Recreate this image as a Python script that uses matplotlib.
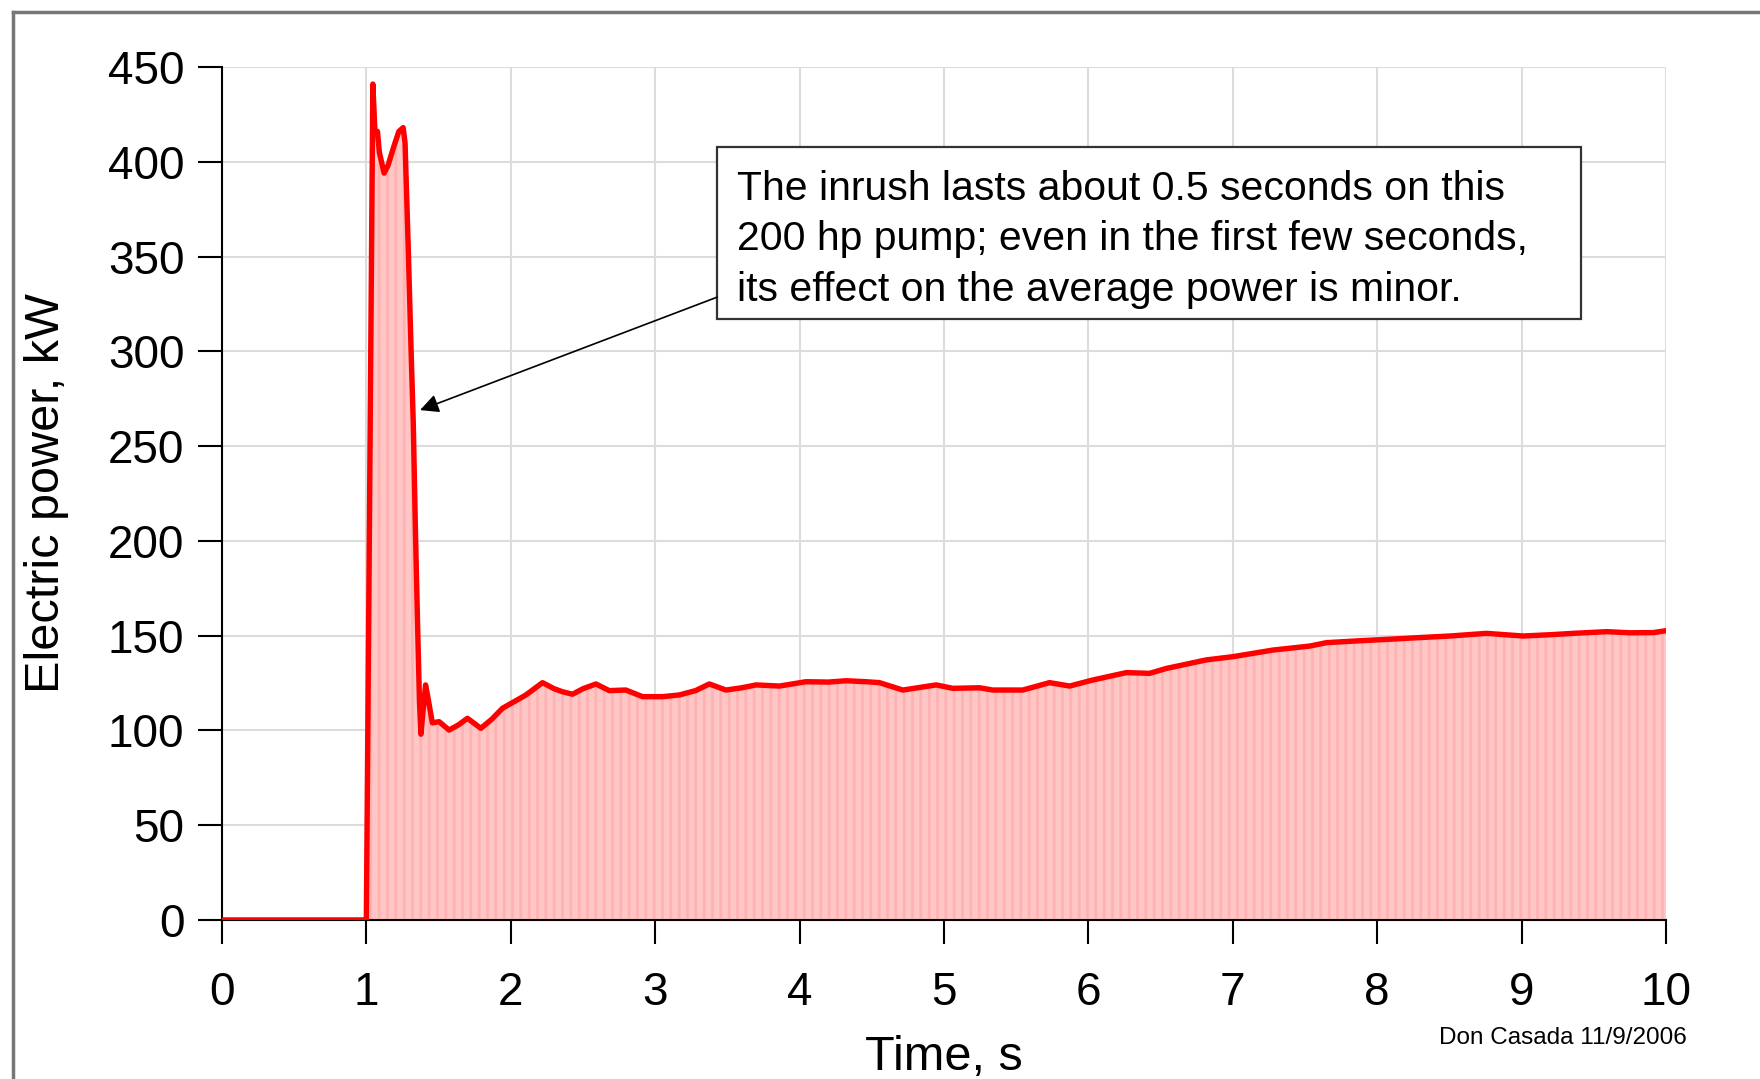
import matplotlib
matplotlib.use("Agg")
import matplotlib.pyplot as plt
from matplotlib.lines import Line2D
from matplotlib.patches import Rectangle

plt.rcParams['font.family'] = ['Liberation Sans', 'DejaVu Sans']
plt.rcParams['hatch.color'] = '#ffb2b2'
plt.rcParams['hatch.linewidth'] = 2.0

# Pump start-up power trace
time_s = [0.0, 1.0, 1.045, 1.06, 1.077, 1.09, 1.105, 1.123, 1.15, 1.19, 1.225,
          1.255, 1.268, 1.29, 1.31, 1.325, 1.34, 1.355, 1.368, 1.378, 1.39,
          1.41, 1.425, 1.457, 1.504, 1.573, 1.64, 1.70, 1.793, 1.87, 1.943,
          2.02, 2.105, 2.22, 2.30, 2.358, 2.428, 2.50, 2.59, 2.682,
          2.797, 2.913, 3.051, 3.167, 3.28, 3.375, 3.49, 3.60, 3.699, 3.86,
          4.045, 4.20, 4.322, 4.46, 4.553, 4.715, 4.946, 5.061, 5.246, 5.338,
          5.546, 5.731, 5.87, 6.031, 6.263, 6.424, 6.54, 6.817, 7.001, 7.279,
          7.533, 7.649, 7.879, 8.087, 8.30, 8.503, 8.757, 9.011, 9.20, 9.358,
          9.589, 9.75, 9.912, 10.0]
power_kw = [0, 0, 441, 415, 416, 405, 400, 394, 398, 408, 416,
            418, 410, 355, 300, 262, 205, 155, 115, 98, 108,
            124, 118, 104, 104.6, 100.2, 103, 106.4, 101.1, 106, 111.7,
            115, 118.7, 125.2, 122, 120.4, 119.1, 122, 124.5, 121,
            121.3, 117.8, 117.8, 118.7, 121, 124.5, 121.3, 122.5, 124, 123.4,
            125.7, 125.5, 126.2, 125.7, 125.2, 121.3, 124, 122.2, 122.5, 121.3,
            121.3, 125.2, 123.4, 126.6, 130.5, 130.1, 132.7, 137.2, 138.9, 142.4,
            144.5, 146.3, 147.3, 148.1, 149, 149.8, 151.2, 149.8, 150.5, 151.2,
            152.1, 151.5, 151.6, 152.6]

x_ticks = list(range(0, 11))
y_ticks = list(range(0, 451, 50))

note_text = ("The inrush lasts about 0.5 seconds on this\n"
             "200 hp pump; even in the first few seconds,\n"
             "its effect on the average power is minor.")
credit_text = "Don Casada 11/9/2006"

fig = plt.figure(figsize=(17.6, 10.79), dpi=100)
ax = fig.add_axes([0.1261, 0.1474, 0.8205, 0.7905])

ax.fill_between(time_s, power_kw, 0, facecolor='#ffc6c6', edgecolor='none',
                hatch='||', zorder=1)
ax.plot(time_s, power_kw, color='#ff0000', lw=3.9, solid_joinstyle='round',
        solid_capstyle='round', zorder=3)

ax.set_xlim(0, 10)
ax.set_ylim(0, 450)
ax.set_xticks(x_ticks)
ax.set_yticks(y_ticks)
ax.grid(True, color='#dcdcdc', lw=1.5, zorder=0)
ax.set_axisbelow(True)
for side in ('top', 'right'):
    ax.spines[side].set_visible(False)
for side in ('left', 'bottom'):
    ax.spines[side].set_linewidth(1.5)
ax.tick_params(axis='both', length=17, width=1.5, labelsize=33, pad=10)
ax.tick_params(axis='x', pad=20)

ax.set_ylabel("Electric power, kW", fontsize=35, labelpad=28)
ax.set_xlabel("Time, s", fontsize=35, labelpad=14)

# Callout box and arrow
ax.add_patch(Rectangle((3.43, 317), 9.41 - 3.43, 407.8 - 317, facecolor='white',
                       edgecolor='#333333', lw=1.6, zorder=5))
ax.text(3.569, 359, note_text, fontsize=29.5, ha='left', va='center',
        linespacing=1.41, zorder=6)
ax.annotate("", xy=(1.372, 269), xytext=(3.43, 328.6),
            arrowprops=dict(arrowstyle='-|>', color='black', lw=1.2,
                            mutation_scale=28, shrinkA=0, shrinkB=0),
            zorder=6)

fig.text(1687 / 1760, 1 - 1038 / 1079, credit_text, fontsize=17.5,
         ha='right', va='center')

# Outer frame
frame_kw = dict(color='#777777', lw=2.5, transform=fig.transFigure)
fig.add_artist(Line2D([13 / 1760, 13 / 1760], [1 - 12 / 1079, -0.05], **frame_kw))
fig.add_artist(Line2D([13 / 1760, 1.05], [1 - 12 / 1079, 1 - 12 / 1079], **frame_kw))

fig.savefig("out.png", dpi=100)
